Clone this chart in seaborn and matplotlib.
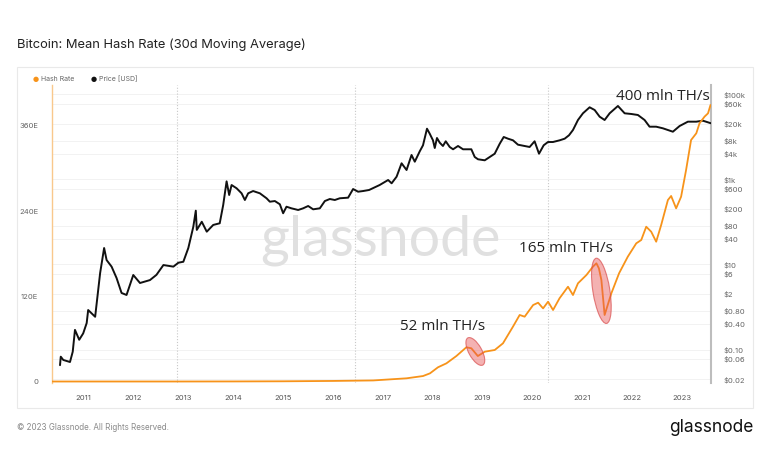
import numpy as np
import pandas as pd
import matplotlib
matplotlib.use("Agg")
import matplotlib.pyplot as plt
import matplotlib.transforms as mtransforms
from matplotlib.patches import Ellipse, Rectangle
from matplotlib.ticker import NullLocator
import seaborn as sns

# ---------------- data ----------------
price_t = [2010.525, 2010.54, 2010.59, 2010.725, 2010.78, 2010.825, 2010.91, 2010.99, 2011.06, 2011.09,
           2011.23, 2011.33, 2011.41, 2011.46, 2011.56, 2011.66, 2011.76, 2011.86, 2011.995, 2012.13,
           2012.33, 2012.46, 2012.6, 2012.8, 2012.9, 2013.0, 2013.1, 2013.2, 2013.25, 2013.27,
           2013.37, 2013.47, 2013.6, 2013.73,
           2013.80, 2013.868, 2013.92, 2013.968, 2014.069, 2014.169, 2014.235, 2014.301, 2014.40, 2014.536,
           2014.67, 2014.736, 2014.837, 2014.937, 2015.003, 2015.07, 2015.17, 2015.304, 2015.404, 2015.505,
           2015.605, 2015.739, 2015.84, 2015.94, 2016.04, 2016.14, 2016.307, 2016.407, 2016.507, 2016.608,
           2016.728,
           2016.94, 2017.11, 2017.18, 2017.28, 2017.38, 2017.48, 2017.58, 2017.645,
           2017.745, 2017.81, 2017.89, 2017.945, 2018.01, 2018.046, 2018.09, 2018.146, 2018.21, 2018.266,
           2018.346, 2018.413, 2018.513, 2018.613, 2018.78, 2018.848, 2018.914, 2019.049, 2019.148, 2019.249,
           2019.35, 2019.43, 2019.516, 2019.616, 2019.716, 2019.85, 2019.95, 2020.05, 2020.138, 2020.232,
           2020.318, 2020.418, 2020.553, 2020.653, 2020.74,
           2020.82, 2020.92, 2021.02, 2021.154, 2021.255, 2021.355, 2021.455, 2021.556, 2021.722, 2021.857,
           2021.99, 2022.123, 2022.257, 2022.357, 2022.49, 2022.624, 2022.825, 2022.96, 2023.126, 2023.295,
           2023.427, 2023.59]
price_usd = [0.043, 0.068, 0.057, 0.051, 0.089, 0.29, 0.17, 0.24, 0.42, 0.85,
             0.59, 6.3, 24.4, 12.7, 8.9, 4.8, 2.14, 1.92, 5.66, 3.67,
             4.3, 5.7, 9.7, 8.9, 11.0, 11.6, 24.4, 77, 184, 65,
             101, 59, 85, 93,
             250, 900, 430, 738, 618, 471, 328, 471, 533, 471,
             360, 299, 310, 260, 160, 228, 209, 191, 209, 237,
             198, 209, 310, 346, 328, 360, 372, 594, 514, 533,
             564,
             738, 968, 810, 1158, 2393, 1663, 3750, 2607,
             4581, 6339, 15560, 11860, 8300, 5470, 9400, 7295, 6100, 7870,
             5780, 5105, 6100, 5105, 5105, 3365, 2972, 2812, 3365, 4018,
             6902, 9931, 9057, 8300, 6546, 6100, 5780, 7870, 4018, 6339,
             7570, 7570, 8300, 9057, 10890,
             14500, 24900, 35800, 49550, 42760, 29800, 24900, 35800, 53200, 35800,
             34500, 32660, 24900, 17340, 17340, 15890, 13220, 17990, 22750, 22750,
             23990, 20840]

hash_t = [2010.36, 2012.0, 2013.0, 2014.0, 2015.0, 2016.0, 2016.81, 2017.48, 2017.81, 2017.95,
          2018.11, 2018.28, 2018.48, 2018.68, 2018.78, 2018.91, 2019.05, 2019.25, 2019.415, 2019.615,
          2019.75, 2019.85, 2020.02, 2020.12, 2020.22, 2020.32, 2020.42, 2020.55, 2020.72, 2020.82,
          2020.92, 2021.09, 2021.22, 2021.29, 2021.34, 2021.39, 2021.455, 2021.59, 2021.745, 2021.92,
          2022.09, 2022.19, 2022.29, 2022.39, 2022.49, 2022.59, 2022.725, 2022.79, 2022.89, 2022.99,
          2023.09, 2023.19, 2023.295, 2023.36, 2023.46, 2023.53, 2023.58]
hash_eh = [0.0, 0.01, 0.02, 0.1, 0.3, 0.8, 1.5, 4.5, 7.7, 11.5,
           20, 25.6, 35.9, 48.2, 46.8, 35.9, 42, 44.4, 53.8, 77.2,
           93.7, 91.3, 107.7, 111, 103, 112.4, 100.7, 117.2, 133.5, 121.8,
           138.3, 150, 161.7, 166.5, 159.4, 143, 93.7, 124.2, 152.4, 175.8,
           194.6, 199.3, 218, 211, 196.9, 220.4, 255.6, 261.3, 243.9, 260.3,
           297.9, 340.1, 349.6, 363.7, 373, 377.7, 389.4]

year_ticks = list(range(2011, 2024))
year_labels = [str(y) for y in year_ticks]
hash_ticks = [0, 120, 240, 360]
hash_labels = ["0", "120E", "240E", "360E"]
price_ticks = [0.02, 0.06, 0.10, 0.40, 0.80, 2, 6, 10, 40, 80, 200, 600,
               1000, 4000, 8000, 20000, 60000, 100000]
price_labels = ["$0.02", "$0.06", "$0.10", "$0.40", "$0.80", "$2", "$6", "$10", "$40",
                "$80", "$200", "$600", "$1k", "$4k", "$8k", "$20k", "$60k", "$100k"]
halvings = [2012.871, 2016.44, 2020.31]

ann_text = ["52 mln TH/s", "165 mln TH/s", "400 mln TH/s"]
ann_t = [2018.2, 2020.67, 2022.62]
ann_eh = [78, 188, 402]

# ---------------- styling ----------------
sns.set_theme(style="white")
plt.rcParams['font.family'] = ['Inter', 'DejaVu Sans']

ORANGE = "#f7931a"

fig = plt.figure(figsize=(7.68, 4.63), dpi=100)
fig.patch.set_facecolor("white")

fig.add_artist(Rectangle((17 / 768, 1 - 408 / 463), (753 - 17) / 768, (408 - 67) / 463,
                         transform=fig.transFigure, fill=False, edgecolor="#e9e9e9", lw=0.8))

ax = fig.add_axes([52 / 768, 1 - 383 / 463, 659 / 768, 298 / 463])
ax2 = ax.twinx()
ax.set_zorder(ax2.get_zorder() + 1)
ax.patch.set_visible(False)
ax2.patch.set_facecolor("white")

df_hash = pd.DataFrame({"t": hash_t, "eh": hash_eh})
df_price = pd.DataFrame({"t": price_t, "usd": price_usd})

ax2.set_yscale("log")
sns.lineplot(data=df_price, x="t", y="usd", ax=ax2, color="#111111", lw=1.4,
             estimator=None, sort=False, zorder=3)
sns.lineplot(data=df_hash, x="t", y="eh", ax=ax, color=ORANGE, lw=1.3,
             estimator=None, sort=False, zorder=3)

# grid + halving lines
for p in price_ticks:
    ax2.axhline(p, color="#f0f0f0", lw=0.6, zorder=0)
for h in halvings:
    ax2.axvline(h, color="#c8c8c8", ls=(0, (1, 1.6)), lw=0.8, zorder=1)

ax2.text(0.498, 0.48, "glassnode", transform=ax2.transAxes, fontsize=40,
         color="#e0e0e0", ha="center", va="center", family="Lato", zorder=0.5)

# annotations
for txt, tx, ty in zip(ann_text, ann_t, ann_eh):
    ax.text(tx, ty, txt, fontsize=11, family="Open Sans", color="#222222",
            ha="center", va="center", zorder=5)

for (cx, cy, w, h, ang) in [(2018.86, 42.3, 0.31, 0.13, -61), (2021.39, 127.7, 0.66, 0.17, -81)]:
    tr = fig.dpi_scale_trans + mtransforms.ScaledTranslation(cx, cy, ax.transData)
    e = Ellipse((0, 0), w, h, angle=ang, transform=tr,
                facecolor=(0.91, 0.33, 0.33, 0.45), edgecolor=(0.85, 0.3, 0.3, 0.7), lw=0.8, zorder=4)
    ax.add_artist(e)

# axes formatting
ax.set_xlim(2010.364, 2023.59)
ax.set_ylim(-2.1, 417.6)
ax2.set_ylim(0.01637, 165600)

ax.set_xticks(year_ticks)
ax.set_xticklabels(year_labels)
ax.set_yticks(hash_ticks)
ax.set_yticklabels(hash_labels)
ax2.set_yticks(price_ticks)
ax2.set_yticklabels(price_labels)
ax2.yaxis.set_minor_locator(NullLocator())

ax.tick_params(axis="y", length=0, pad=10, labelsize=5.5, labelcolor="#666666")
ax.tick_params(axis="x", length=0, pad=9, labelsize=5.5, labelcolor="#555555")
ax2.tick_params(axis="y", length=0, pad=9, labelsize=5.5, labelcolor="#666666")

for a in (ax, ax2):
    a.set_xlabel("")
    a.set_ylabel("")
    a.grid(False)
    for s in a.spines.values():
        s.set_visible(False)
ax.spines["left"].set_visible(True)
ax.spines["left"].set_color("#f9c88c")
ax.spines["left"].set_linewidth(1.0)
ax2.spines["right"].set_visible(True)
ax2.spines["right"].set_color("#bdbdbd")
ax2.spines["right"].set_linewidth(1.5)

# legend
fig.text(33 / 768, 1 - 79 / 463, "●", color=ORANGE, fontsize=5, va="center", family="DejaVu Sans")
fig.text(41 / 768, 1 - 79 / 463, "Hash Rate", color="#666666", fontsize=5, va="center")
fig.text(91 / 768, 1 - 79 / 463, "●", color="#111111", fontsize=5, va="center", family="DejaVu Sans")
fig.text(99 / 768, 1 - 79 / 463, "Price [USD]", color="#666666", fontsize=5, va="center")

# title and footer
fig.text(17 / 768, 1 - 45 / 463, "Bitcoin: Mean Hash Rate (30d Moving Average)",
         fontsize=9.3, color="#222222", va="center")
fig.text(17 / 768, 1 - 428 / 463, "© 2023 Glassnode. All Rights Reserved.",
         fontsize=5.8, color="#8a8a8a", va="center")
fig.text(753 / 768, 1 - 428 / 463, "glassnode", fontsize=12.5, color="#111111",
         ha="right", va="center")

fig.savefig("out.png", dpi=100, facecolor="white")
